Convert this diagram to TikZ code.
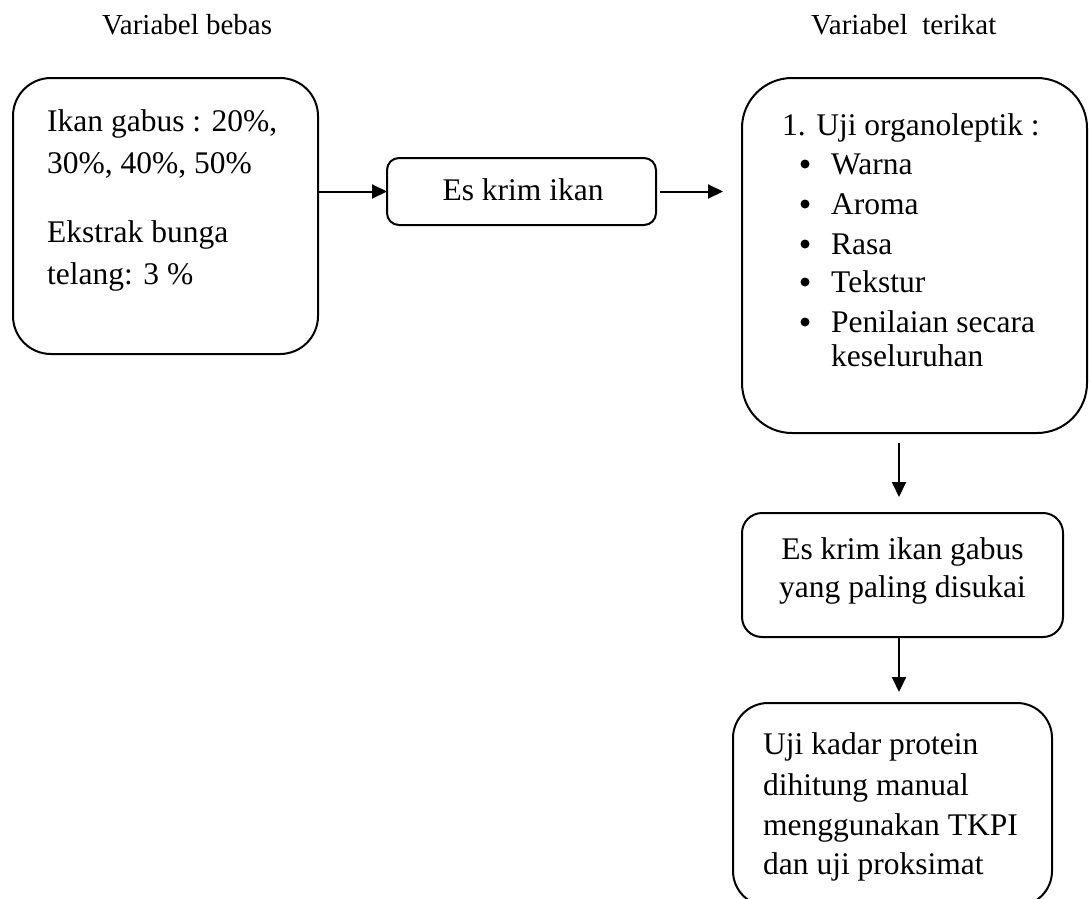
\documentclass[tikz,border=0pt]{standalone}
\usepackage{fontspec}
\setmainfont{Liberation Serif}
\usetikzlibrary{arrows.meta}
\begin{document}
\begin{tikzpicture}[x=1pt,y=-1pt,
  box/.style={draw,line width=2pt,inner sep=0pt,outer sep=0pt},
  txt/.style={anchor=base west,inner sep=0pt,font=\fontsize{31.5}{40}\selectfont},
  ctxt/.style={anchor=base,inner sep=0pt,font=\fontsize{31.5}{40}\selectfont},
  hdr/.style={anchor=base west,inner sep=0pt,font=\fontsize{29}{36}\selectfont},
  arr/.style={line width=2pt,-{Triangle[length=15pt,width=14pt]}},
  dot/.style={circle,fill,inner sep=0pt,minimum size=9pt}]
\useasboundingbox (0,0) rectangle (1089,898);
% headers
\node[hdr] (h1) at (102,34) {Variabel bebas};
\node[hdr] (h2) at (811,34) {Variabel\ \ terikat};
% boxes
\node[box,rounded corners=38pt,minimum width=305pt,minimum height=276pt] (lbox) at (165.5,216) {};
\node[box,rounded corners=12pt,minimum width=269pt,minimum height=67pt] (ek) at (521.5,191.5) {};
\node[box,rounded corners=50pt,minimum width=345pt,minimum height=355pt] (rbox) at (914.5,255.5) {};
\node[box,rounded corners=20pt,minimum width=321pt,minimum height=124pt] (mid) at (902.5,575) {};
\node[box,rounded corners=35pt,minimum width=319pt,minimum height=203pt] (bot) at (892.5,804.5) {};
% left box text
\node[txt] (l1) at (47,131) {Ikan gabus : 20\%,};
\node[txt] (l2) at (47,173) {30\%, 40\%, 50\%};
\node[txt] (l3) at (47,242) {Ekstrak bunga};
\node[txt] (l4) at (47,284) {telang: 3 \%};
% es krim
\node[ctxt] (ekt) at (523,200) {Es krim ikan};
% right box text
\node[txt] (r0) at (782,135) {1. Uji organoleptik :};
\node[dot] (b1) at (805,164) {};
\node[txt] (r1) at (831,174) {Warna};
\node[dot] (b2) at (805,204) {};
\node[txt] (r2) at (831,214) {Aroma};
\node[dot] (b3) at (805,244) {};
\node[txt] (r3) at (831,254) {Rasa};
\node[dot] (b4) at (805,282) {};
\node[txt] (r4) at (831,292) {Tekstur};
\node[dot] (b5) at (805,322) {};
\node[txt] (r5) at (831,332) {Penilaian secara};
\node[txt] (r6) at (831,366) {keseluruhan};
% middle box text
\node[ctxt] (m1) at (902.5,559) {Es krim ikan gabus};
\node[ctxt] (m2) at (902.5,597) {yang paling disukai};
% bottom box text
\node[txt] (u1) at (763,754) {Uji kadar protein};
\node[txt] (u2) at (763,795) {dihitung manual};
\node[txt] (u3) at (763,835) {menggunakan TKPI};
\node[txt] (u4) at (763,874) {dan uji proksimat};
% arrows
\draw[arr] (lbox.east |- ek.west) -- (ek.west);
\draw[arr] ([xshift=4pt]ek.east) -- ([xshift=-19pt]rbox.west |- ek.east);
\draw[arr] ([xshift=-3.5pt,yshift=-10pt]rbox.south -| mid.north) -- ([xshift=-3.5pt,yshift=16pt]mid.north);
\draw[arr] ([xshift=-3.5pt]mid.south) -- ([xshift=-3.5pt,yshift=11pt]mid.south |- bot.north);
\end{tikzpicture}
\end{document}
